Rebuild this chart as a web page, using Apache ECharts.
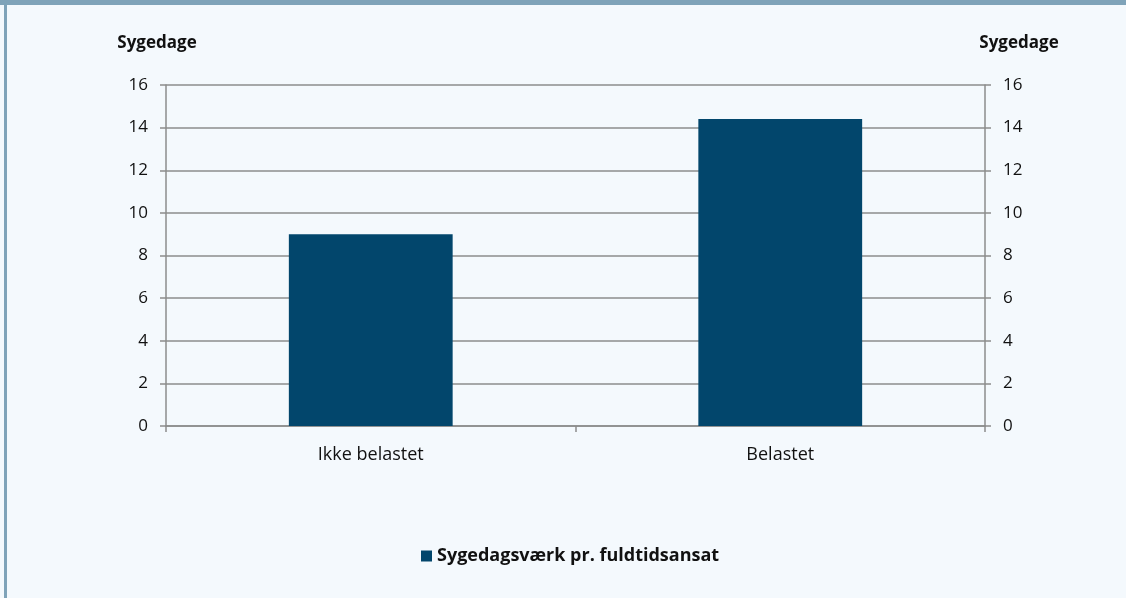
<!DOCTYPE html>
<html>
<head>
<meta charset="utf-8">
<script src="https://cdn.jsdelivr.net/npm/echarts@6/dist/echarts.min.js"></script>
<style>
html,body{margin:0;padding:0;background:#f4f9fd;}
#chart{width:1126px;height:598px;}
</style>
</head>
<body>
<div id="chart"></div>
<script>
const categories = ['Ikke belastet', 'Belastet'];
const values = [9.0, 14.4];
const seriesName = 'Sygedagsværk pr. fuldtidsansat';
const axisName = 'Sygedage';
const yMin = 0, yMax = 16, yInterval = 2;

const FONT = '"Open Sans", "Noto Sans", sans-serif';
const gridColor = '#8c8c8c';
const chart = echarts.init(document.getElementById('chart'));

function yAxisCfg(pos) {
  return {
    type: 'value', position: pos, min: yMin, max: yMax, interval: yInterval,
    name: axisName, nameLocation: 'end', nameGap: 33,
    nameTextStyle: {fontFamily: FONT, fontSize: 17, fontWeight: 'bold', color: '#111',
      align: 'center', padding: pos === 'left' ? [0, 18, 0, 0] : [0, 0, 0, 68]},
    axisLine: {show: true, lineStyle: {color: gridColor, width: 1.5}},
    axisTick: {show: true, inside: false, length: 6, lineStyle: {color: gridColor, width: 1.5}},
    axisLabel: {fontFamily: FONT, fontSize: 17, color: '#111', margin: 18},
    splitLine: {show: pos === 'left', lineStyle: {color: gridColor, width: 1.5}}
  };
}

chart.setOption({
  backgroundColor: '#f4f9fd',
  animation: false,
  grid: {left: 166, right: 141, top: 85, bottom: 172, containLabel: false},
  graphic: [
    {type: 'rect', left: 0, top: 0, shape: {width: 1126, height: 5}, style: {fill: '#7fa3b9'}, z: 100},
    {type: 'rect', left: 4, top: 0, shape: {width: 3, height: 598}, style: {fill: '#7fa3b9'}, z: 100}
  ],
  legend: {
    bottom: 28, left: 416, itemWidth: 11, itemHeight: 11, itemGap: 9,
    icon: 'rect',
    textStyle: {fontFamily: FONT, fontSize: 18, fontWeight: 'bold', color: '#111'},
    data: [seriesName]
  },
  xAxis: {
    type: 'category', data: categories,
    axisLine: {show: true, lineStyle: {color: gridColor, width: 1.5}},
    axisTick: {show: true, length: 6, lineStyle: {color: gridColor, width: 1.5}},
    axisLabel: {fontFamily: FONT, fontSize: 18, color: '#111', margin: 20}
  },
  yAxis: [yAxisCfg('left'), yAxisCfg('right')],
  series: [{
    name: seriesName, type: 'bar', data: values, barWidth: '40%',
    itemStyle: {color: '#02466c'}
  }]
});
</script>
</body>
</html>
